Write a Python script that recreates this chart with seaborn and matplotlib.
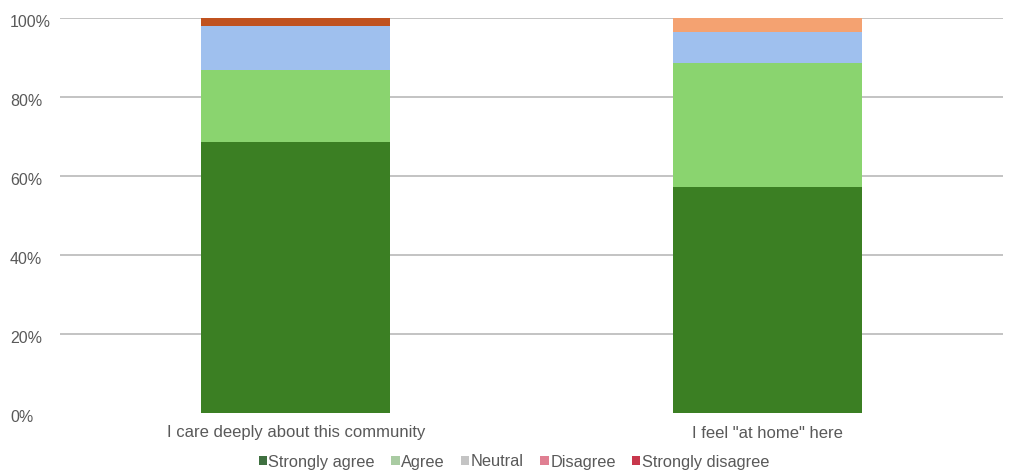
import numpy as np
import pandas as pd
import matplotlib
matplotlib.use("Agg")
import matplotlib.pyplot as plt
import matplotlib.transforms as mtransforms
from matplotlib.patches import Patch
import seaborn as sns

statements = ["I care deeply about this community", 'I feel "at home" here']
levels = ["Strongly agree", "Agree", "Neutral", "Disagree", "Strongly disagree"]
strongly_agree = [68.7, 57.3]
agree = [18.1, 31.2]
neutral = [11.3, 8.0]
disagree = [0.0, 3.5]
strongly_disagree = [1.9, 0.0]

bar_colors = ["#3b7f23", "#8ad46f", "#9fc0ee", "#f4a271", "#c0521f"]
legend_colors = ["#3f7040", "#a9cba2", "#c4c4c4", "#e07f92", "#c8374c"]

sns.set_theme(style="white")
plt.rcParams["font.family"] = ["Liberation Sans", "DejaVu Sans"]

series = [strongly_agree, agree, neutral, disagree, strongly_disagree]
cum = np.cumsum(np.array(series), axis=0)

fig = plt.figure(figsize=(10.13, 4.75), dpi=100)
ax = fig.add_axes([60 / 1013, 1 - 413 / 475, 943 / 1013, 395 / 475])

# stacked bars: draw cumulative totals from the top layer down
for i in range(len(levels) - 1, -1, -1):
    df = pd.DataFrame({"statement": statements, "value": cum[i]})
    sns.barplot(data=df, x="statement", y="value", color=bar_colors[i],
                width=0.4, saturation=1, ax=ax, linewidth=0, zorder=3)

ax.set_xlim(-0.5, 1.5)
ax.set_ylim(0, 100)
ax.set_yticks([0, 20, 40, 60, 80, 100])
ax.set_yticklabels(["0%", "20%", "40%", "60%", "80%", "100%"])
for y in [20, 40, 60, 80, 100]:
    ax.axhline(y, color="#b3b3b3", linewidth=1.1, zorder=1)
ax.set_xlabel("")
ax.set_ylabel("")
for s in ax.spines.values():
    s.set_visible(False)
ax.tick_params(axis="y", length=0, pad=36, labelsize=11.5, labelcolor="#595959")
ax.tick_params(axis="x", length=0, pad=9, labelsize=12, labelcolor="#595959")

# y labels left-aligned in the margin, sitting a touch below their gridlines
shift = mtransforms.ScaledTranslation(0, -3 / 100, fig.dpi_scale_trans)
for lbl in ax.get_yticklabels():
    lbl.set_horizontalalignment("left")
    lbl.set_transform(lbl.get_transform() + shift)

handles = [Patch(facecolor=c, edgecolor="none", label=l) for c, l in zip(legend_colors, levels)]
fig.legend(handles=handles, loc="center", bbox_to_anchor=(514 / 1013, 1 - 462 / 475),
           ncol=5, frameon=False, fontsize=11.8, labelcolor="#595959",
           handlelength=0.5, handleheight=0.5, handletextpad=0.1, columnspacing=1.0)

fig.savefig("out.png", dpi=100, facecolor="white")
